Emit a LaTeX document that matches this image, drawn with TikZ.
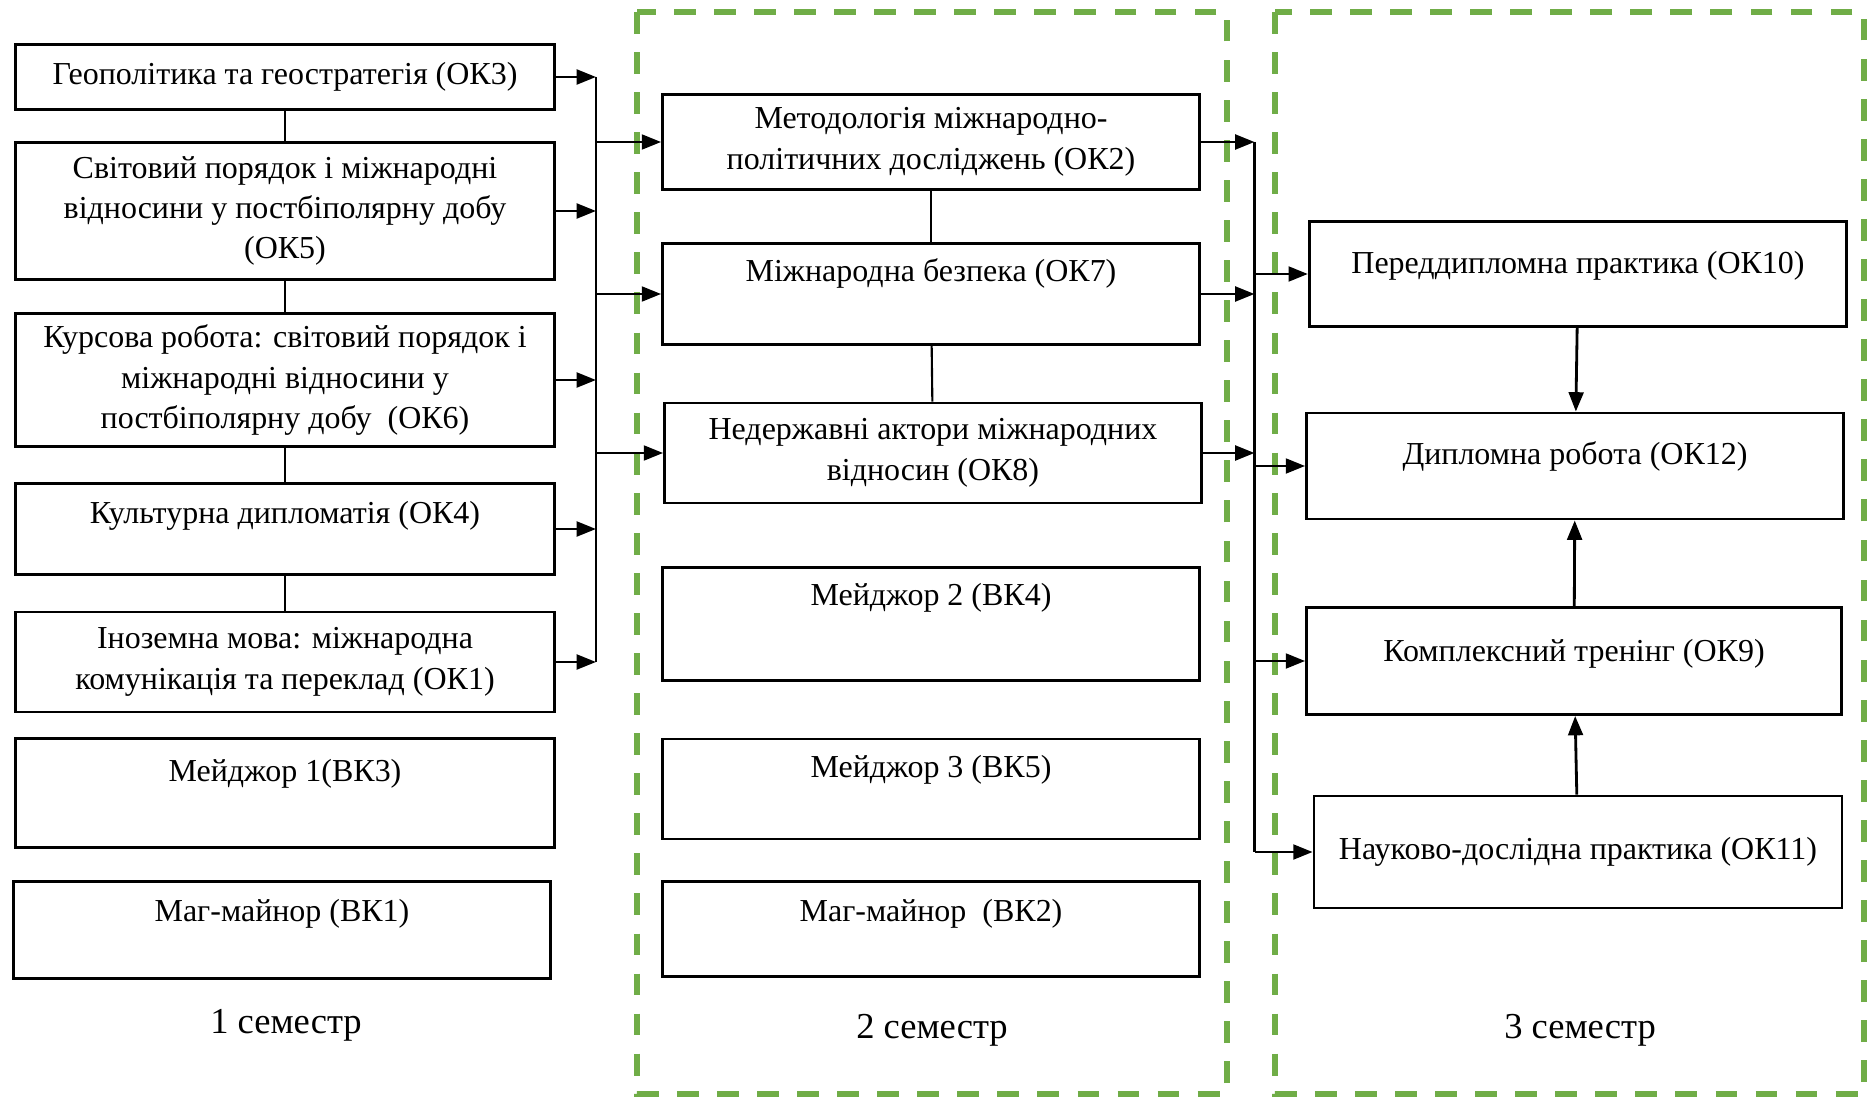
\documentclass[tikz,border=0pt]{standalone}
\usepackage{fontspec}
\setmainfont{Liberation Serif}
\usetikzlibrary{arrows.meta}
\definecolor{semgreen}{HTML}{70AD47}
\tikzset{course/.style={
		draw,
		rectangle,
		line width=0.8pt,
		minimum width=5.37cm,
		inner sep=2pt,
		align=center,
		font=\fontsize{9.1}{11.5}\selectfont},
	uptext/.style 2 args={text height=#1, text depth=#2},
	semframe/.style={
		draw=semgreen,
		line width=1.5pt,
		dash pattern=on 6.2pt off 5.2pt},
	semlabel/.style={font=\fontsize{10.4}{13}\selectfont},
	link/.style={-{Triangle[length=5.5pt,width=4.2pt]}, line width=0.8pt}}

\begin{document}
\begin{tikzpicture}
				\useasboundingbox (0,0) rectangle (18.68,-11);
				\draw[semframe] (6.37,-0.12) rectangle (12.27,-10.94);
				\draw[semframe] (12.75,-0.12) rectangle (18.64,-10.94);
				
				\node[course, minimum width=5.39cm, minimum height=0.655cm] (OK3) at (2.85,-0.77) {Геополітика та геостратегія (ОК3)};
				\node[course, minimum width=5.39cm, minimum height=1.37cm] (OK5) at (2.85,-2.11) {Світовий порядок і міжнародні\\відносини у постбіполярну добу\\(ОК5)};
				\node[course, minimum width=5.39cm, minimum height=1.334cm] (OK6) at (2.85,-3.80) {Курсова робота: світовий порядок і\\міжнародні відносини у\\постбіполярну добу~~(ОК6)};
				\node[course, minimum width=5.39cm, minimum height=0.905cm, uptext={9.4pt}{12.3pt}] (OK4) at (2.85,-5.29) {Культурна дипломатія (ОК4)};
				\node[course, minimum width=5.39cm, minimum height=1.0cm] (OK1) at (2.85,-6.62) {Іноземна мова: міжнародна\\комунікація та переклад (ОК1)};
				\node[course, minimum width=5.39cm, minimum height=1.096cm, uptext={10.3pt}{16.9pt}] (VK3) at (2.85,-7.93) {Мейджор 1(ВК3)};
				\node[course, minimum width=5.37cm, minimum height=0.965cm, uptext={9.4pt}{14.1pt}] (VK1) at (2.82,-9.30) {Маг-майнор (ВК1)};
				\node[semlabel] (S1) at (2.86,-10.25) {1 семестр};
				
				\node[course, minimum height=0.953cm] (OK2) at (9.31,-1.42) {Методологія міжнародно-\\політичних досліджень (ОК2)};
				\node[course, minimum height=1.01cm, uptext={8.9pt}{15.8pt}] (OK7) at (9.31,-2.94) {Міжнародна безпека (ОК7)};
				\node[course, minimum height=1.0cm] (OK8) at (9.33,-4.53) {Недержавні актори міжнародних\\відносин (ОК8)};
				\node[course, minimum height=1.13cm, uptext={8.9pt}{19.2pt}] (VK4) at (9.31,-6.24) {Мейджор 2 (ВК4)};
				\node[course, minimum height=1.0cm, uptext={8.9pt}{15.6pt}] (VK5) at (9.31,-7.89) {Мейджор 3 (ВК5)};
				\node[course, minimum height=0.953cm, uptext={9.4pt}{13.7pt}] (VK2) at (9.31,-9.29) {Маг-майнор~~(ВК2)};
				\node[semlabel] (S2) at (9.32,-10.30) {2 семестр};
				
				\node[course, minimum width=5.375cm, minimum height=1.048cm, uptext={12.9pt}{12.9pt}] (OK10) at (15.78,-2.74) {Переддипломна практика (ОК10)};
				\node[course, minimum height=1.06cm, uptext={12.6pt}{13.6pt}] (OK12) at (15.75,-4.66) {Дипломна робота (ОК12)};
				\node[course, minimum width=5.35cm, minimum height=1.072cm, uptext={13.3pt}{13.2pt}] (OK9) at (15.74,-6.61) {Комплексний тренінг (ОК9)};
				\node[course, minimum width=5.28cm, minimum height=1.12cm] (OK11) at (15.78,-8.52) {Науково-дослідна практика (ОК11)};
				\node[semlabel] (S3) at (15.80,-10.30) {3 семестр};
				
				\coordinate (busA) at (5.96,0);
				\coordinate (busB) at (12.545,0);
				
				\draw[line width=0.6pt] (OK3) -- (OK5);
				\draw[line width=0.6pt] (OK5) -- (OK6);
				\draw[line width=0.6pt] (OK6) -- (OK4);
				\draw[line width=0.6pt] (OK4) -- (OK1);
				\draw[line width=0.6pt] (OK2) -- (OK7);
				\draw[line width=0.6pt] (OK7) -- (OK8);
				
				\draw[line width=0.8pt] (OK3.east -| busA) -- (OK1.east -| busA);
				\foreach \src in {OK3,OK5,OK6,OK4,OK1}
					\draw[link] (\src.east) -- (\src.east -| busA);
				\foreach \dst in {OK2,OK7,OK8}
					\draw[link] (\dst.west -| busA) -- (\dst.west);
				
				\draw[line width=0.8pt] (OK2.east -| busB) -- (OK11.west -| busB);
				\foreach \src in {OK2,OK7,OK8}
					\draw[link] (\src.east) -- (\src.east -| busB);
				\foreach \dst in {OK10,OK12,OK9,OK11}
					\draw[link] (\dst.west -| busB) -- (\dst.west);
				
				\draw[link] (OK10) -- (OK12);
				\draw[link] (OK9) -- (OK12);
				\draw[link] (OK11) -- (OK9);
			\end{tikzpicture}
\end{document}
